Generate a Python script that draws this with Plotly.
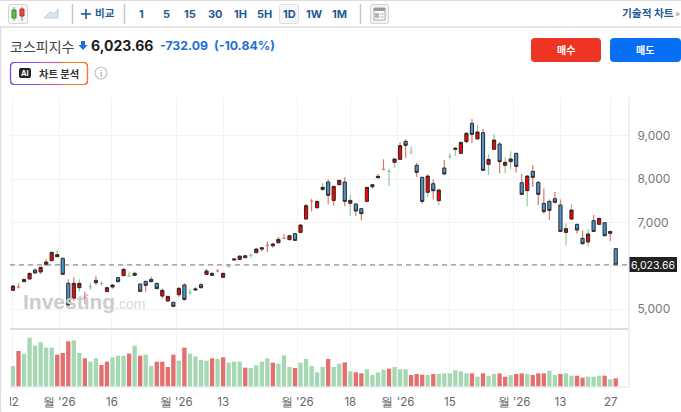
import plotly.graph_objects as go

W, H = 681, 412

# candles, oldest first
opens = [5435, 5512, 5635, 5697, 5905, 5859, 6028, 6121, 6213, 6175,
         5597, 5250, 5497, 5274, 5520, 5666, 5597, 5405, 5512, 5728,
         5774, 5766, 5828, 5582, 5643, 5689, 5597, 5304, 5189, 5158,
         5335, 5559, 5389, 5443, 5566, 5805, 5828, 5882, 5736, 5982,
         6135, 6150, 6235, 6243, 6304, 6420, 6474, 6466, 6535, 6635,
         6605, 6743, 6774, 7082, 7498, 7344, 7767, 7937, 7513, 7875,
         7937, 7444, 7429, 7321, 7490, 7875, 8037, 8229, 8183, 8391,
         8460, 8876, 8630, 8322, 8045, 7698, 7898, 7506, 8260, 8530,
         8691, 8599, 8869, 9292, 8930, 9076, 8345, 8691, 8815, 8322,
         8407, 8599, 7921, 7737, 8183, 7929, 7444, 7490, 7552, 7406,
         6774, 7082, 6959, 6635, 6551, 7044, 6959, 6997, 6797, 6397]
closes = [5535, 5512, 5689, 5828, 5836, 5967, 6090, 6313, 6259, 5805,
          5097, 5597, 5597, 5274, 5520, 5612, 5597, 5497, 5559, 5635,
          5920, 5766, 5782, 5412, 5551, 5635, 5474, 5435, 5297, 5066,
          5481, 5227, 5389, 5466, 5497, 5882, 5782, 5882, 5828, 5982,
          6158, 6227, 6189, 6243, 6389, 6389, 6474, 6505, 6612, 6635,
          6697, 6589, 6944, 7390, 7498, 7490, 7814, 7629, 7837, 7975,
          7490, 7513, 7267, 7205, 7814, 7829, 8068, 8229, 8183, 8468,
          8776, 8784, 8630, 8160, 7490, 8075, 7737, 7752, 8122, 8530,
          8715, 8853, 9061, 9038, 9092, 8206, 8460, 8907, 8407, 8391,
          8468, 8299, 7652, 8075, 8045, 7652, 7252, 7282, 7467, 6797,
          6859, 7290, 6828, 6512, 6736, 6797, 7097, 6697, 6751, 6024]
highs = [5559, 5597, 5700, 5840, 5943, 5982, 6151, 6329, 6367, 6190,
         5689, 5736, 5689, 5405, 5597, 5766, 5651, 5520, 5582, 5743,
         5943, 5867, 5867, 5589, 5659, 5751, 5605, 5481, 5304, 5174,
         5520, 5597, 5458, 5520, 5597, 5928, 5851, 5928, 5843, 6036,
         6181, 6243, 6243, 6289, 6405, 6435, 6566, 6535, 6666, 6728,
         6712, 6758, 6959, 7436, 7544, 7506, 7906, 8000, 7844, 7983,
         8052, 7637, 7444, 7336, 7821, 7891, 8122, 8460, 8245, 8484,
         8853, 8922, 8753, 8376, 8060, 8122, 7998, 7790, 8445, 8599,
         8753, 8861, 9092, 9392, 9254, 9161, 8576, 9046, 8853, 8507,
         8645, 8614, 8122, 8099, 8330, 7960, 7790, 7536, 7706, 7536,
         6982, 7429, 6974, 6820, 6851, 7175, 7113, 7005, 6805, 6412]
lows = [5420, 5481, 5630, 5690, 5828, 5805, 6020, 6113, 6198, 5797,
        5081, 5235, 5405, 5120, 5443, 5559, 5543, 5397, 5466, 5628,
        5766, 5751, 5766, 5405, 5405, 5628, 5466, 5243, 5174, 5058,
        5274, 5197, 5328, 5428, 5481, 5790, 5766, 5851, 5728, 5967,
        6135, 6143, 6181, 6189, 6297, 6328, 6320, 6420, 6520, 6620,
        6597, 6582, 6766, 7074, 7259, 7321, 7729, 7421, 7390, 7860,
        7375, 7151, 7151, 7051, 7483, 7783, 8014, 8206, 7844, 8268,
        8445, 8499, 8576, 8052, 7436, 7590, 7536, 7398, 8091, 8468,
        8545, 8591, 8830, 8830, 8922, 8199, 8099, 8676, 8137, 8137,
        8245, 8152, 7637, 7382, 7829, 7398, 7205, 7059, 7444, 6782,
        6466, 7059, 6743, 6497, 6443, 6782, 6944, 6682, 6574, 6024]
# wick colour per candle: g = green, r = red
wick_side = list("rrrrrgrrgr" "rrgrgrgrgr" "rgrrrrrrrr" "rrggrrrrrg" "rrrgrrrrrr"
                 "rrrrrrgrrr" "rgrrrrrrgg" "rrgrrgrgrg" "grrrgrggrg" "grrgrrrrrr"
                 "ggrrgrrrrr")

# volume pane
volumes = [63, 108, 99, 148, 124, 134, 118, 118, 97, 102,
           137, 140, 102, 86, 76, 86, 66, 76, 89, 94,
           94, 100, 124, 94, 97, 63, 76, 76, 60, 97,
           79, 118, 100, 92, 81, 79, 86, 84, 89, 73,
           76, 76, 58, 57, 65, 76, 86, 73, 70, 95,
           60, 57, 73, 84, 63, 44, 60, 84, 60, 70,
           74, 47, 44, 41, 53, 36, 44, 52, 55, 60,
           53, 53, 36, 39, 37, 36, 39, 39, 41, 41,
           50, 47, 41, 41, 31, 41, 34, 39, 41, 31,
           36, 39, 41, 39, 36, 41, 41, 49, 36, 39,
           41, 34, 34, 28, 31, 31, 34, 34, 23, 26]
volume_side = list("grggggggrr" "rggrggrrgg" "grgrggrrrr" "grggggrgrg" "ggrggggrgg"
                   "grgggggrgg" "rgrrggggrg" "ggrrrgrggg" "gggrgrggrr" "grrgrrrggr"
                   "ggrrgggrgr")

x_ticks = [0, 8.37, 17.9, 29.5, 38, 51.4, 61, 69.6, 79, 90.6, 99, 108.1]
x_labels = ["12", "월 '26", "16", "월 '26", "13", "월 '26", "18", "월 '26", "15", "월 '26", "13", "27"]
y_ticks = [5000, 6000, 7000, 8000, 9000]
y_labels = ["5,000", "", "7,000", "8,000", "9,000"]
last_price = 6023.66

UP_RED = "#fb0000"
DOWN_BLUE = "#4a94cf"
TEXT_BLUE = "#1f5a94"


def px(x):
    return x / W


def py(y):
    return 1 - y / H


def rounded(x0, y0, x1, y1, r):
    # rounded box as an svg path in paper coords
    return (f"M{px(x0 + r)},{py(y0)} L{px(x1 - r)},{py(y0)} Q{px(x1)},{py(y0)} {px(x1)},{py(y0 + r)} "
            f"L{px(x1)},{py(y1 - r)} Q{px(x1)},{py(y1)} {px(x1 - r)},{py(y1)} L{px(x0 + r)},{py(y1)} "
            f"Q{px(x0)},{py(y1)} {px(x0)},{py(y1 - r)} L{px(x0)},{py(y0 + r)} Q{px(x0)},{py(y0)} {px(x0 + r)},{py(y0)} Z")


def box(x0, y0, x1, y1, fill="rgba(0,0,0,0)", line=None, width=1, r=0):
    shape = dict(type="path" if r else "rect", xref="paper", yref="paper", fillcolor=fill,
                 line=dict(color=line or "rgba(0,0,0,0)", width=width), layer="above")
    if r:
        shape["path"] = rounded(x0, y0, x1, y1, r)
    else:
        shape.update(x0=px(x0), x1=px(x1), y0=py(y0), y1=py(y1))
    return shape


def seg(x0, y0, x1, y1, color, width=1):
    return dict(type="line", xref="paper", yref="paper", x0=px(x0), x1=px(x1), y0=py(y0), y1=py(y1),
                line=dict(color=color, width=width), layer="above")


def label(x, y, text, size=11, color="#333333", bold=False, anchor="left", family="Noto Sans CJK KR"):
    return dict(xref="paper", yref="paper", x=px(x), y=py(y), text=f"<b>{text}</b>" if bold else text,
                showarrow=False, xanchor=anchor, yanchor="middle", borderpad=0,
                font=dict(size=size, color=color, family=family))


fig = go.Figure()

# wicks first, bodies drawn over them
for side, color in (("g", "#93cc93"), ("r", "#d9796c")):
    idx = [i for i in range(110) if wick_side[i] == side]
    mids = [(opens[i] + closes[i]) / 2 for i in idx]
    fig.add_trace(go.Candlestick(
        x=idx, open=mids, close=mids,
        high=[highs[i] for i in idx], low=[lows[i] for i in idx],
        increasing=dict(line=dict(color=color, width=1.2)),
        decreasing=dict(line=dict(color=color, width=1.2)),
        showlegend=False, hoverinfo="skip"))

idx = [i for i in range(110) if opens[i] != closes[i]]
fig.add_trace(go.Candlestick(
    x=idx,
    open=[opens[i] for i in idx], close=[closes[i] for i in idx],
    high=[max(opens[i], closes[i]) for i in idx], low=[min(opens[i], closes[i]) for i in idx],
    increasing=dict(fillcolor=UP_RED, line=dict(color="#2a2a2a", width=1)),
    decreasing=dict(fillcolor=DOWN_BLUE, line=dict(color="#2a2a2a", width=1)),
    showlegend=False, hoverinfo="skip"))

fig.add_trace(go.Bar(
    x=list(range(110)), y=volumes, xaxis="x2", yaxis="y2", width=0.78,
    marker=dict(color=["#a5d8b2" if s == "g" else "#e46f6f" for s in volume_side], line=dict(width=0)),
    showlegend=False, hoverinfo="skip"))

shapes = [
    # page frame
    seg(0, 0, W, 0, "#dddddd", 2),
    seg(0, 27, W, 27, "#dddddd", 1.5),
    seg(0.5, 27, 0.5, H, "#dddddd", 1.5),
    # clips the first tick label like the original
    box(1.2, 390, 10, 408, fill="#ffffff"),
    # pane frame
    seg(10, 329, 629, 329, "#dcdcdc", 2),
    seg(629, 97, 629, 387, "#e8ebf2", 1.5),
    seg(10, 387, 629, 387, "#e8ebf2", 1.5),
    # toolbar: candle button
    box(8.5, 4.5, 27.5, 23.5, fill="#f6f6f6", line="#d4d4d4", r=2),
    seg(14, 7, 14, 21, "#888888"), box(12, 10, 16, 18, fill="#63b84f", line="#3f8a35"),
    seg(22, 7, 22, 21, "#888888"), box(20, 9, 24, 16, fill="#e8463a", line="#b5352c"),
    # toolbar: area button
    dict(type="path", xref="paper", yref="paper", layer="above", fillcolor="#dbe6f2",
         line=dict(color="#b9cfe4", width=1),
         path=f"M{px(44)},{py(18)} L{px(50)},{py(12)} L{px(54)},{py(14)} L{px(58)},{py(9)} "
              f"L{px(58)},{py(18)} Z"),
    seg(72.5, 4, 72.5, 24, "#c8c8c8", 1.5),
    seg(81, 14, 91, 14, TEXT_BLUE, 1.6), seg(86, 9, 86, 19, TEXT_BLUE, 1.6),
    seg(124.5, 4, 124.5, 24, "#c8c8c8", 1.5),
    box(279.5, 4.5, 298.5, 23.5, fill="#f6f6f6", line="#dddddd", r=2),
    seg(360.5, 4, 360.5, 24, "#c8c8c8", 1.5),
    # toolbar: layout button
    box(370.5, 4.5, 388.5, 23.5, fill="#f2f2f2", line="#d4d4d4", r=2),
    box(374, 8, 385, 20, fill="#ffffff", line="#a8a8a8"),
    box(374, 8, 385, 11, fill="#9a9a9a"),
    box(375, 13, 379, 18, fill="#b5b5b5"),
    seg(380, 14, 384, 14, "#b5b5b5"), seg(380, 17, 384, 17, "#b5b5b5"),
    # down arrow next to the index name
    dict(type="path", xref="paper", yref="paper", layer="above", fillcolor="#1f6fd6",
         line=dict(width=0),
         path=f"M{px(81)},{py(41)} L{px(85)},{py(41)} L{px(85)},{py(45)} L{px(87.5)},{py(45)} "
              f"L{px(83)},{py(50)} L{px(78.5)},{py(45)} L{px(81)},{py(45)} Z"),
    # AI badge, border runs purple to orange
    box(10.5, 62.5, 87.5, 84.5, fill="#ffffff", line="#d0509a", width=1.2, r=4),
    dict(type="path", xref="paper", yref="paper", layer="above", line=dict(color="#7a52f5", width=1.2),
         path=f"M{px(40)},{py(62.5)} L{px(14.5)},{py(62.5)} Q{px(10.5)},{py(62.5)} {px(10.5)},{py(66.5)} "
              f"L{px(10.5)},{py(80.5)} Q{px(10.5)},{py(84.5)} {px(14.5)},{py(84.5)} L{px(40)},{py(84.5)}"),
    dict(type="path", xref="paper", yref="paper", layer="above", line=dict(color="#f47a20", width=1.2),
         path=f"M{px(60)},{py(62.5)} L{px(83.5)},{py(62.5)} Q{px(87.5)},{py(62.5)} {px(87.5)},{py(66.5)} "
              f"L{px(87.5)},{py(80.5)} Q{px(87.5)},{py(84.5)} {px(83.5)},{py(84.5)} L{px(62)},{py(84.5)}"),
    box(19, 68, 31, 78, fill="#222222", r=2),
    dict(type="circle", xref="paper", yref="paper", x0=px(95), x1=px(107), y0=py(67), y1=py(79),
         line=dict(color="#c4c4c4", width=1.2), layer="above"),
    # buy and sell buttons
    box(531, 38, 601, 62, fill="#ee3524", r=4),
    box(610, 38, 681, 62, fill="#066ff5", r=4),
    # last price line and tag
    dict(type="line", xref="paper", yref="y", x0=px(10), x1=px(629), y0=last_price, y1=last_price,
         line=dict(color="#777777", width=1, dash="5px,4px"), layer="above"),
    box(629.5, 257, 677, 272, fill="#222222"),
]

annotations = [
    label(141, 14, "1", 11, TEXT_BLUE, True, "center", "Inter"),
    label(166, 14, "5", 11, TEXT_BLUE, True, "center", "Inter"),
    label(190, 14, "15", 11, TEXT_BLUE, True, "center", "Inter"),
    label(215, 14, "30", 11, TEXT_BLUE, True, "center", "Inter"),
    label(240, 14, "1H", 11, TEXT_BLUE, True, "center", "Inter"),
    label(264, 14, "5H", 11, TEXT_BLUE, True, "center", "Inter"),
    label(289, 14, "1D", 11, TEXT_BLUE, True, "center", "Inter"),
    label(314, 14, "1W", 11, TEXT_BLUE, True, "center", "Inter"),
    label(339, 14, "1M", 11, TEXT_BLUE, True, "center", "Inter"),
    label(94, 13, "비교", 10.5, TEXT_BLUE, True),
    label(621, 13, "기술적 차트", 10.7, TEXT_BLUE, True),
    label(674, 13, "»", 10, "#888888"),
    label(9, 46, "코스피지수", 14, "#444444"),
    label(90, 46, "6,023.66", 14, "#1a1a1a", True, "left", "Inter"),
    label(159, 46, "-732.09", 12.3, "#1f6fd6", True, "left", "Inter"),
    label(213, 46, "(-10.84%)", 12.3, "#1f6fd6", True, "left", "Inter"),
    label(25, 73, "AI", 7.5, "#ffffff", True, "center", "Inter"),
    label(38, 73, "차트 분석", 10.3, "#333333", True),
    label(101, 73, "i", 9, "#bbbbbb", True, "center", "Inter"),
    label(566, 50, "매수", 10, "#ffffff", True, "center"),
    label(645, 50, "매도", 10, "#ffffff", True, "center"),
    label(653, 265, "6,023.66", 10.5, "#ffffff", False, "center", "Inter"),
    label(22, 301, "Investing", 21, "#cccccc", True, "left", "Liberation Sans"),
    label(114, 304, ".com", 14, "#dadada", False, "left", "Liberation Sans"),
]

fig.update_layout(
    width=W, height=H, margin=dict(l=0, r=0, t=0, b=0, autoexpand=False),
    paper_bgcolor="#ffffff", plot_bgcolor="#ffffff",
    boxgap=0.18, dragmode=False, showlegend=False,
    font=dict(family="Inter", color="#666666"),
    xaxis=dict(domain=[px(10), px(629)], range=[-0.54, 111.4], anchor="y",
               rangeslider=dict(visible=False), tickvals=x_ticks, showticklabels=False,
               showgrid=True, gridcolor="#f3f3f5", gridwidth=1, zeroline=False, showline=False),
    yaxis=dict(domain=[py(329), py(97)], range=[4543, 9900], side="right", anchor="x",
               tickvals=y_ticks, ticktext=y_labels, tickfont=dict(size=12, color="#777777"),
               showgrid=True, gridcolor="#f3f3f5", gridwidth=1, zeroline=False, showline=False,
               ticks="outside", ticklen=5, tickcolor="rgba(0,0,0,0)"),
    xaxis2=dict(domain=[px(10), px(629)], range=[-0.54, 111.4], anchor="y2",
                tickvals=x_ticks, ticktext=x_labels, tickfont=dict(size=11.5, color="#666666"),
                showgrid=True, gridcolor="#f3f3f5", gridwidth=1, zeroline=False, showline=False,
                ticks="outside", ticklen=4, tickcolor="rgba(0,0,0,0)", tickangle=0),
    yaxis2=dict(domain=[py(387), py(331)], range=[0, 168], anchor="x2", side="right",
                showticklabels=False, showgrid=False, zeroline=False, showline=False),
    shapes=shapes, annotations=annotations,
)

fig.write_html("out.html", config=dict(displayModeBar=False),
               post_script="document.body.style.margin='0';document.body.style.overflow='hidden';")
